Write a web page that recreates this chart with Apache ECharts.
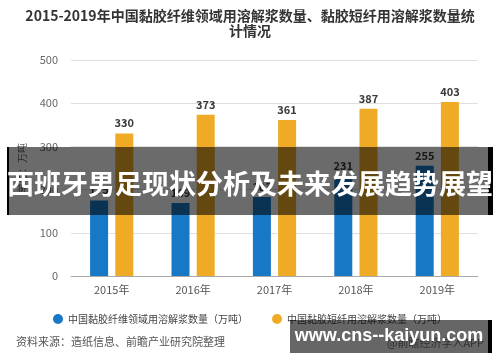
<!DOCTYPE html>
<html>
<head>
<meta charset="utf-8">
<script src="https://cdn.jsdelivr.net/npm/echarts@6/dist/echarts.min.js"></script>
<style>
html,body{margin:0;padding:0;background:#fff;}
#c{width:500px;height:362px;}
</style>
</head>
<body>
<div id="c"></div>
<script>
var categories = ['2015年', '2016年', '2017年', '2018年', '2019年'];
var fiberPulp = [175, 169, 183, 231, 255];
var staplePulp = [330, 373, 361, 387, 403];
var seriesNames = ['中国黏胶纤维领域用溶解浆数量（万吨）', '中国黏胶短纤用溶解浆数量（万吨）'];
var yTicks = { min: 0, max: 500, interval: 100 };

var FONT = '"Noto Sans CJK SC", "Noto Sans", sans-serif';
var chart = echarts.init(document.getElementById('c'), null, { renderer: 'canvas' });
var lbl = { show: true, position: 'top', distance: 5, color: '#3a3a3a', fontSize: 11, fontWeight: 'bold', fontFamily: FONT };
chart.setOption({
  animation: false,
  textStyle: { fontFamily: FONT },
  legend: {
    data: seriesNames, top: 309, left: 'center', icon: 'circle',
    itemWidth: 10, itemHeight: 10, itemGap: 24,
    textStyle: { fontSize: 10, color: '#444', fontFamily: FONT }
  },
  grid: { left: 71, right: 22, top: 60, bottom: 86 },
  xAxis: {
    type: 'category', data: categories,
    axisLine: { lineStyle: { color: '#aaa' } },
    axisTick: { alignWithLabel: true, length: 4, lineStyle: { color: '#aaa' } },
    axisLabel: { color: '#555', fontSize: 11, margin: 8, fontFamily: FONT }
  },
  yAxis: {
    type: 'value', min: yTicks.min, max: yTicks.max, interval: yTicks.interval,
    name: '单位：万吨', nameLocation: 'middle', nameRotate: 90, nameGap: 44,
    nameTextStyle: { color: '#666', fontSize: 10, fontFamily: FONT },
    axisLine: { show: false }, axisTick: { show: false },
    axisLabel: { color: '#666', fontSize: 11, margin: 13, fontFamily: FONT },
    splitLine: { lineStyle: { color: '#e0e0e0' } }
  },
  series: [
    { name: seriesNames[0], type: 'bar', data: fiberPulp, barWidth: 18, barGap: '40%',
      itemStyle: { color: '#1778C6' }, label: lbl },
    { name: seriesNames[1], type: 'bar', data: staplePulp, barWidth: 18,
      itemStyle: { color: '#EFAB25' }, label: lbl }
  ],
  graphic: [
    { type: 'text', z: 10, x: 250, y: 16,
      style: { text: '2015-2019年中国黏胶纤维领域用溶解浆数量、黏胶短纤用溶解浆数量统', fill: '#333',
        fontSize: 14, fontWeight: 'bold', fontFamily: FONT, align: 'center', verticalAlign: 'middle' } },
    { type: 'text', z: 10, x: 250, y: 31,
      style: { text: '计情况', fill: '#333',
        fontSize: 14, fontWeight: 'bold', fontFamily: FONT, align: 'center', verticalAlign: 'middle' } },
    { type: 'text', left: 16, top: 336, z: 10,
      style: { text: '资料来源：造纸信息、前瞻产业研究院整理', fill: '#555', fontSize: 11, fontFamily: FONT } },
    { type: 'text', left: 387, top: 337, z: 10,
      style: { text: '@前瞻经济学人APP', fill: '#777', fontSize: 11, fontFamily: FONT } },
    { type: 'rect', shape: { x: 7, y: 147, width: 486, height: 68 }, z: 100,
      style: { fill: 'rgba(0,0,0,0.58)' } },
    { type: 'rect', shape: { x: 7, y: 147, width: 2, height: 68 }, z: 101, style: { fill: '#000' } },
    { type: 'rect', shape: { x: 488, y: 147, width: 5, height: 68 }, z: 101, style: { fill: '#000' } },
    { type: 'text', z: 102, x: 250, y: 184,
      style: { text: '西班牙男足现状分析及未来发展趋势展望', fill: '#fff', fontSize: 27, fontWeight: 'bold',
        fontFamily: FONT, align: 'center', verticalAlign: 'middle' } },
    { type: 'rect', shape: { x: 290, y: 320, width: 198, height: 33 }, z: 100,
      style: { fill: 'rgba(0,0,0,0.6)' } },
    { type: 'rect', shape: { x: 488, y: 320, width: 4, height: 33 }, z: 101, style: { fill: '#000' } },
    { type: 'text', z: 102, x: 389, y: 336,
      style: { text: 'www.cns--kaiyun.com', fill: '#fff', fontSize: 18, fontWeight: 'bold',
        fontFamily: '"Liberation Sans", Arial, sans-serif', align: 'center', verticalAlign: 'middle' } }
  ]
});
</script>
</body>
</html>
